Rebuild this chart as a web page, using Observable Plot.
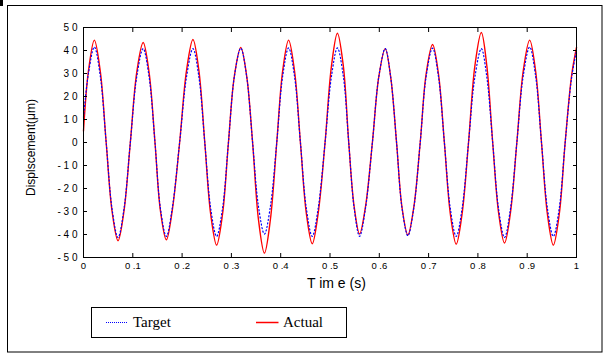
<!DOCTYPE html>
<html>
<head>
<meta charset="utf-8">
<script src="https://cdn.jsdelivr.net/npm/d3@7"></script>
<script src="https://cdn.jsdelivr.net/npm/@observablehq/plot@0.6"></script>
<style>
  html, body { margin: 0; padding: 0; background: #fff; }
  #wrap { position: relative; width: 609px; height: 363px; background: #fff; overflow: hidden; }
  #wrap > svg { position: absolute; left: 0; top: 0; }
</style>
</head>
<body>
<div id="wrap"></div>
<script>
// ---- data ----
const time = [0, 0.010, 0.022, 0.034, 0.046, 0.058, 0.070, 0.082, 0.095, 0.108, 0.121, 0.133, 0.145, 0.156, 0.168, 0.180, 0.195, 0.209, 0.222, 0.234, 0.246, 0.258, 0.270, 0.282, 0.294, 0.306, 0.319, 0.331, 0.343, 0.355, 0.367, 0.379, 0.392, 0.404, 0.416, 0.428, 0.440, 0.452, 0.464, 0.476, 0.490, 0.503, 0.515, 0.527, 0.538, 0.549, 0.560, 0.572, 0.586, 0.599, 0.612, 0.623, 0.635, 0.646, 0.658, 0.670, 0.683, 0.695, 0.708, 0.720, 0.732, 0.744, 0.756, 0.768, 0.781, 0.794, 0.807, 0.818, 0.830, 0.842, 0.854, 0.866, 0.879, 0.892, 0.905, 0.917, 0.929, 0.941, 0.953, 0.965, 0.977, 0.990, 1.000];
const actual = [5, 31, 44.5, 31, 0, -30, -42.7, -30, 0, 30.5, 43.5, 30.5, 0, -29.6, -42.3, -29.6, 0, 31.4, 44.8, 31.4, 0, -31.2, -44.6, -31.2, 0, 28.9, 41.3, 28.9, 0, -33.7, -48.1, -33.7, 0, 31.2, 44.5, 31.2, 0, -30.8, -44, -30.8, 0, 33.3, 47.5, 33.3, 0, -27.9, -39.8, -27.9, 0, 28.6, 40.8, 28.6, 0, -28.1, -40.2, -28.1, 0, 29.8, 42.6, 29.8, 0, -30.9, -44.2, -30.9, 0, 33.5, 47.8, 33.5, 0, -30.6, -43.7, -30.6, 0, 31.2, 44.5, 31.2, 0, -31.2, -44.6, -31.2, 0, 29, 41.3];
const target = [11, 30, 41.5, 29, 0, -29, -41.3, -29, 0, 28.6, 40.8, 28.6, 0, -28.6, -40.8, -28.6, 0, 28.6, 40.8, 28.6, 0, -28.6, -40.8, -28.6, 0, 28.7, 41, 28.7, 0, -27.9, -39.8, -27.9, 0, 28.8, 41.1, 28.8, 0, -28.6, -40.8, -28.6, 0, 28.8, 41.1, 28.8, 0, -28.6, -40.8, -28.6, 0, 28.6, 40.8, 28.6, 0, -28.4, -40.5, -28.4, 0, 28.7, 41, 28.7, 0, -28.6, -40.8, -28.6, 0, 28.6, 40.8, 28.6, 0, -28.9, -41.3, -28.9, 0, 29, 41.5, 29, 0, -28.6, -40.8, -28.6, 0, 28, 40];

const xTicks = [0, 0.1, 0.2, 0.3, 0.4, 0.5, 0.6, 0.7, 0.8, 0.9, 1];
const xTickLabels = ["0", "0 .1", "0 .2", "0 .3", "0 .4", "0 .5", "0 .6", "0 .7", "0 .8", "0 .9", "1"];
const yTicks = [-50, -40, -30, -20, -10, 0, 10, 20, 30, 40, 50];
const yTickLabels = ["- 5 0", "- 4 0", "- 3 0", "- 2 0", "- 1 0", "0", "1 0", "2 0", "3 0", "4 0", "5 0"];

const xLabel = "T im e (s)";
const yLabel = "Displscement(\u03bcm)";
const seriesNames = ["Target", "Actual"];

const actualData = time.map((t, i) => ({t, v: actual[i]}));
const targetData = time.map((t, i) => ({t, v: target[i]}));

const blank = () => "";
const plot = Plot.plot({
  width: 609,
  height: 363,
  marginLeft: 83,
  marginRight: 33,
  marginTop: 27,
  marginBottom: 106,
  style: {background: "transparent", fontFamily: "'Liberation Sans', Arial, sans-serif", color: "black"},
  x: {domain: [0, 1]},
  y: {domain: [-50, 50]},
  marks: [
    Plot.line(actualData, {x: "t", y: "v", stroke: "red", strokeWidth: 1.4, curve: "catmull-rom"}),
    Plot.line(targetData, {x: "t", y: "v", stroke: "blue", strokeWidth: 1.2, strokeDasharray: "1.2,2.4", curve: "catmull-rom"}),
    Plot.frame({stroke: "black", strokeWidth: 1}),
    Plot.axisY(yTicks, {anchor: "left", tickSize: 4, dx: 4, tickFormat: blank, label: null}),
    Plot.axisY(yTicks, {anchor: "right", tickSize: 4, dx: -4, tickFormat: blank, label: null}),
    Plot.axisX(xTicks, {anchor: "bottom", tickSize: 4, dy: -4, tickFormat: blank, label: null}),
    Plot.axisX(xTicks, {anchor: "top", tickSize: 4, dy: 4, tickFormat: blank, label: null}),
    Plot.axisY(yTicks, {anchor: "left", tickSize: 0, tickPadding: 6, fontSize: 10, tickFormat: d => yTickLabels[yTicks.indexOf(d)], label: null}),
    Plot.axisX(xTicks, {anchor: "bottom", tickSize: 0, tickPadding: 5, fontSize: 9.5, tickFormat: d => xTickLabels[xTicks.indexOf(d)], label: null})
  ]
});
document.getElementById("wrap").appendChild(plot);

// ---- overlay: outer frame, axis titles, legend ----
const ns = "http://www.w3.org/2000/svg";
const ov = d3.select("#wrap").append("svg")
  .attr("xmlns", ns).attr("width", 609).attr("height", 363)
  .style("pointer-events", "none");
ov.append("rect").attr("x", 0).attr("y", 0).attr("width", 3).attr("height", 6).attr("fill", "black");
ov.append("rect").attr("x", 7.5).attr("y", 5.5).attr("width", 594.5).attr("height", 346.5)
  .attr("fill", "none").attr("stroke", "black").attr("stroke-width", 1);
ov.append("text").attr("x", 307).attr("y", 287.5)
  .attr("font-family", "'Liberation Sans', Arial, sans-serif").attr("font-size", 14).text(xLabel);
ov.append("text").attr("transform", "translate(35,147.5) rotate(-90)").attr("text-anchor", "middle")
  .attr("font-family", "'Liberation Sans', Arial, sans-serif").attr("font-size", 12).text(yLabel);
// legend
const lg = ov.append("g");
lg.append("rect").attr("x", 91.5).attr("y", 307.5).attr("width", 255).attr("height", 30)
  .attr("fill", "white").attr("stroke", "black").attr("stroke-width", 1);
lg.append("line").attr("x1", 106).attr("x2", 127.5).attr("y1", 322.5).attr("y2", 322.5)
  .attr("stroke", "blue").attr("stroke-width", 1).attr("stroke-dasharray", "1,1");
lg.append("text").attr("x", 133).attr("y", 326.5).attr("font-family", "'Liberation Serif', 'Times New Roman', serif")
  .attr("font-size", 15).text(seriesNames[0]);
lg.append("line").attr("x1", 256).attr("x2", 278.5).attr("y1", 322.5).attr("y2", 322.5)
  .attr("stroke", "red").attr("stroke-width", 1.5);
lg.append("text").attr("x", 283).attr("y", 326.5).attr("font-family", "'Liberation Serif', 'Times New Roman', serif")
  .attr("font-size", 15).text(seriesNames[1]);
</script>
</body>
</html>
